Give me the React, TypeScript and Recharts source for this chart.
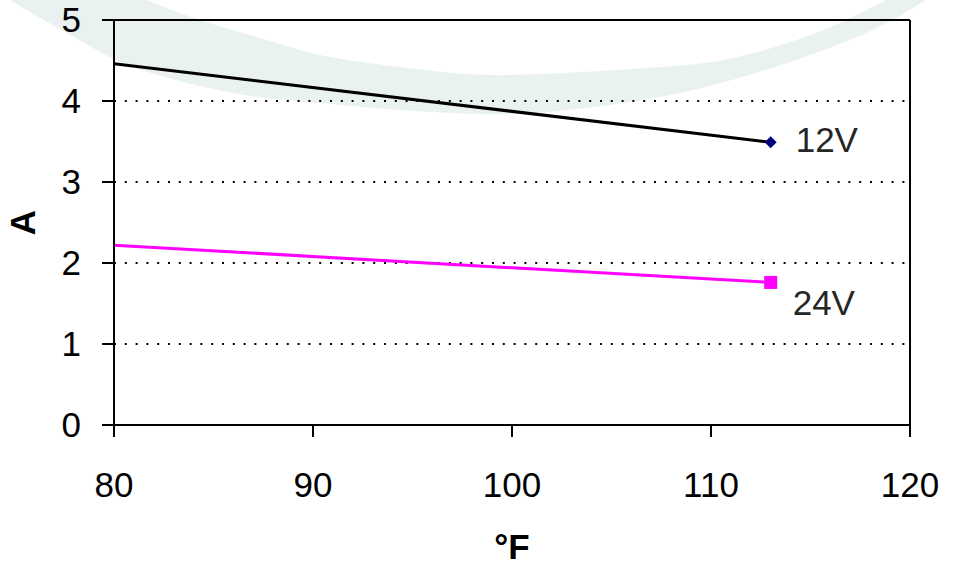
import React from 'react';
import {
  LineChart,
  Line,
  XAxis,
  YAxis,
  CartesianGrid,
  ReferenceLine,
  Label,
  LabelList,
} from 'recharts';

// values
const temperatures = [80, 113];
const amps12V = [4.46, 3.49];
const amps24V = [2.22, 1.76];
const xTicks = [80, 90, 100, 110, 120];
const yTicks = [0, 1, 2, 3, 4, 5];

const data = temperatures.map((f, i) => ({
  f,
  v12: amps12V[i],
  v24: amps24V[i],
}));

const FONT = '"Liberation Sans", Arial, sans-serif';
const FS = 35;
const lastIndex = data.length - 1;

if (typeof document !== 'undefined') {
  document.body.style.margin = '0';
}

// diamond marker only on the last point
const DiamondDot = (props: any) => {
  const { cx, cy, index } = props;
  if (index !== lastIndex) return <g key={`d-${index}`} />;
  const r = 6;
  return (
    <path
      key={`d-${index}`}
      d={`M${cx},${cy - r} L${cx + r},${cy} L${cx},${cy + r} L${cx - r},${cy} Z`}
      fill="#000080"
    />
  );
};

const SquareDot = (props: any) => {
  const { cx, cy, index } = props;
  if (index !== lastIndex) return <g key={`s-${index}`} />;
  const s = 13;
  return (
    <rect
      key={`s-${index}`}
      x={cx - s / 2}
      y={cy - s / 2}
      width={s}
      height={s}
      fill="#ff00ff"
    />
  );
};

const seriesLabel = (text: string, dx: number, dy: number) => (props: any) => {
  const { x, y, index } = props;
  if (index !== lastIndex) return null;
  return (
    <text
      x={x + dx}
      y={y + dy}
      fill="#262626"
      fontSize={FS}
      fontFamily={FONT}
    >
      {text}
    </text>
  );
};

// background swoosh outline (decoration only)
const swooshOuter: [number, number][] = [
  [0, -8], [10, 0], [67, 33], [133, 67], [233, 93], [320, 103], [433, 112],
  [533, 113], [660, 97], [766, 70], [866, 33], [926, 0], [935, -8],
];
const swooshInner: [number, number][] = [
  [140, -8], [147, 0], [200, 20], [267, 40], [320, 55], [400, 67], [500, 75],
  [660, 67], [733, 58], [816, 33], [886, 0], [892, -8],
];

const smooth = (pts: [number, number][]) => {
  let d = '';
  for (let i = 0; i < pts.length - 1; i++) {
    const p0 = pts[Math.max(i - 1, 0)];
    const p1 = pts[i];
    const p2 = pts[i + 1];
    const p3 = pts[Math.min(i + 2, pts.length - 1)];
    const c1x = p1[0] + (p2[0] - p0[0]) / 6;
    const c1y = p1[1] + (p2[1] - p0[1]) / 6;
    const c2x = p2[0] - (p3[0] - p1[0]) / 6;
    const c2y = p2[1] - (p3[1] - p1[1]) / 6;
    d += ` C${c1x},${c1y} ${c2x},${c2y} ${p2[0]},${p2[1]}`;
  }
  return d;
};

const Watermark = () => {
  const inner = [...swooshInner].reverse();
  const d =
    `M${swooshOuter[0][0]},${swooshOuter[0][1]}` +
    smooth(swooshOuter) +
    ` L${inner[0][0]},${inner[0][1]}` +
    smooth(inner) +
    ' Z';
  return (
    <svg
      width={953}
      height={565}
      style={{ position: 'absolute', left: 0, top: 0 }}
    >
      <path d={d} fill="#e9f1f1" />
    </svg>
  );
};

export default function App() {
  return (
    <div style={{ position: 'relative', width: 953, height: 565, background: '#fff' }}>
      <Watermark />
      <div style={{ position: 'absolute', left: 0, top: 0 }}>
        <LineChart
          width={953}
          height={565}
          data={data}
          margin={{ top: 20, right: 43, bottom: 60, left: 54 }}
        >
          <CartesianGrid
            horizontal
            vertical={false}
            stroke="#000"
            strokeWidth={2}
            strokeDasharray="2 8.8"
          />
          <XAxis
            dataKey="f"
            type="number"
            domain={[80, 120]}
            ticks={xTicks}
            allowDataOverflow
            height={80}
            tickSize={12}
            tickMargin={35}
            axisLine={{ stroke: '#000', strokeWidth: 2 }}
            tickLine={{ stroke: '#000', strokeWidth: 2 }}
            tick={{ fill: '#000', fontSize: FS, fontFamily: FONT }}
          >
            <Label
              content={(p: any) => {
                const vb = p.viewBox;
                return (
                  <text
                    x={vb.x + vb.width / 2}
                    y={559}
                    textAnchor="middle"
                    fontSize={FS}
                    fontWeight="bold"
                    fontFamily={FONT}
                    fill="#000"
                  >
                    °F
                  </text>
                );
              }}
            />
          </XAxis>
          <YAxis
            type="number"
            domain={[0, 5]}
            ticks={yTicks}
            width={60}
            tickSize={12}
            tickMargin={21}
            axisLine={{ stroke: '#000', strokeWidth: 2 }}
            tickLine={{ stroke: '#000', strokeWidth: 2 }}
            tick={{ fill: '#000', fontSize: FS, fontFamily: FONT }}
          >
            <Label
              content={(p: any) => {
                const vb = p.viewBox;
                const cy = vb.y + vb.height / 2;
                return (
                  <text
                    x={35}
                    y={cy}
                    transform={`rotate(-90, 35, ${cy})`}
                    textAnchor="middle"
                    fontSize={FS}
                    fontWeight="bold"
                    fontFamily={FONT}
                    fill="#000"
                  >
                    A
                  </text>
                );
              }}
            />
          </YAxis>
          <ReferenceLine x={120} stroke="#000" strokeWidth={2} />
          <ReferenceLine y={5} stroke="#000" strokeWidth={2} />
          <Line
            dataKey="v12"
            stroke="#000"
            strokeWidth={3}
            dot={<DiamondDot />}
            activeDot={false}
            isAnimationActive={false}
          >
            <LabelList dataKey="v12" content={seriesLabel('12V', 25, 10)} />
          </Line>
          <Line
            dataKey="v24"
            stroke="#ff00ff"
            strokeWidth={3}
            dot={<SquareDot />}
            activeDot={false}
            isAnimationActive={false}
          >
            <LabelList dataKey="v24" content={seriesLabel('24V', 22, 33)} />
          </Line>
        </LineChart>
      </div>
    </div>
  );
}
